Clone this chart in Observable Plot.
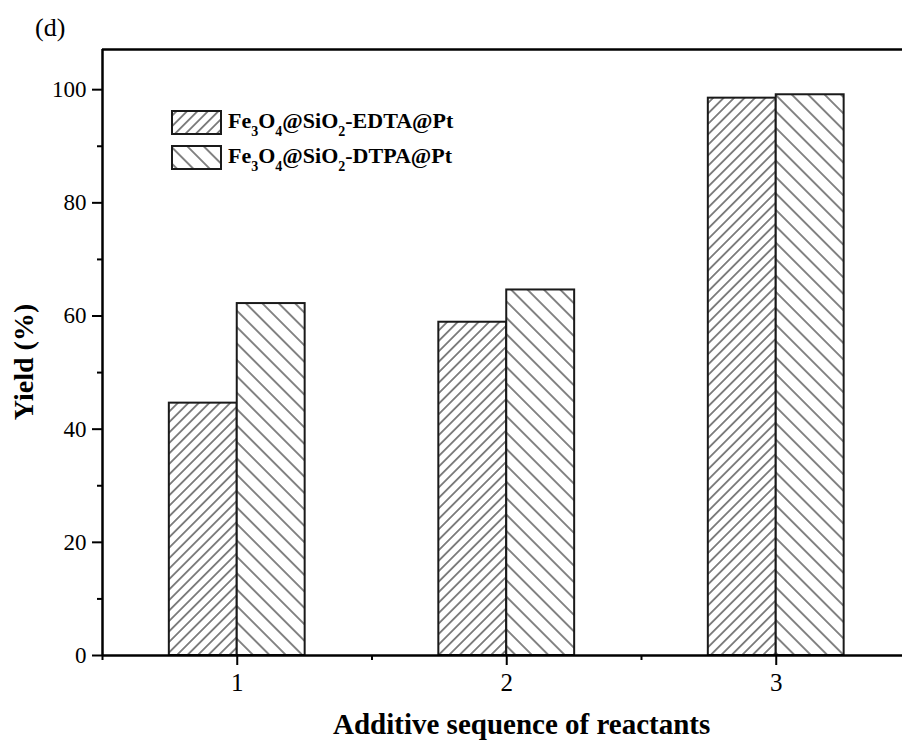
<!DOCTYPE html>
<html><head><meta charset="utf-8">
<script src="https://cdn.jsdelivr.net/npm/d3@7"></script>
<script src="https://cdn.jsdelivr.net/npm/@observablehq/plot@0.6"></script>
<style>body{margin:0;background:#fff} svg{display:block}</style>
</head><body><div id="chart"></div>
<script>
// ---- data ----
const sequences = [1, 2, 3];
const seriesNames = ["Fe3O4@SiO2-EDTA@Pt", "Fe3O4@SiO2-DTPA@Pt"];
const edtaYield = [44.6, 58.9, 98.5];
const dtpaYield = [62.2, 64.6, 99.1];
const yMajorTicks = [0, 20, 40, 60, 80, 100];
const yMinorTicks = [10, 30, 50, 70, 90];
const xMajorTicks = [1, 2, 3];
const xMinorTicks = [0.5, 1.5, 2.5];
const xLabel = "Additive sequence of reactants";
const yLabel = "Yield (%)";
const panelLabel = "(d)";

// ---- layout ----
const W = 902, H = 742;
const barW = 0.252;
const xDomain = [0.5, 3.4685];
const yDomain = [0, 107.1];
const font = "Liberation Serif, Times New Roman, serif";

const rows = [];
sequences.forEach((s, i) => {
  rows.push({seq: s, series: seriesNames[0], value: edtaYield[i], side: -1});
  rows.push({seq: s, series: seriesNames[1], value: dtpaYield[i], side: 1});
});
const fills = {[seriesNames[0]]: "url(#hatchEDTA)", [seriesNames[1]]: "url(#hatchDTPA)"};

const barMark = (name) => Plot.rectY(rows.filter(d => d.series === name), {
  x1: d => d.side < 0 ? d.seq - barW : d.seq,
  x2: d => d.side < 0 ? d.seq : d.seq + barW,
  y1: 0, y2: "value",
  fill: fills[name], stroke: "#1a1a1a", strokeWidth: 2
});

const plot = Plot.plot({
  width: W, height: H,
  marginLeft: 102, marginRight: 0, marginTop: 49, marginBottom: 87,
  style: {fontFamily: font, color: "#000", background: "#fff", overflow: "visible"},
  x: {domain: xDomain},
  y: {domain: yDomain},
  marks: [
    barMark(seriesNames[0]),
    barMark(seriesNames[1]),
    Plot.axisX(xMajorTicks, {tickSize: 10, tickPadding: 8, fontSize: 25, strokeWidth: 2, tickFormat: d => String(d), label: null}),
    Plot.axisX(xMinorTicks, {tickSize: 5, text: null, strokeWidth: 2, label: null}),
    Plot.axisY(yMajorTicks, {tickSize: 10, tickPadding: 6, fontSize: 23, strokeWidth: 2, tickFormat: d => String(d), label: null}),
    Plot.axisY(yMinorTicks, {tickSize: 5, text: null, strokeWidth: 2, label: null}),
    Plot.ruleY([yDomain[0]], {strokeWidth: 2.5, stroke: "#000"}),
    Plot.ruleY([yDomain[1]], {strokeWidth: 2.5, stroke: "#000"}),
    Plot.ruleX([xDomain[0]], {strokeWidth: 2.5, stroke: "#000"})
  ]
});

const svg = d3.select(plot);
const defs = svg.insert("defs", ":first-child");
function hatch(id, spacing, angle) {
  const p = defs.append("pattern").attr("id", id).attr("patternUnits", "userSpaceOnUse")
    .attr("width", spacing).attr("height", spacing)
    .attr("patternTransform", `rotate(${angle})`);
  p.append("rect").attr("width", spacing).attr("height", spacing).attr("fill", "#fff");
  p.append("line").attr("x1", spacing / 2).attr("x2", spacing / 2).attr("y1", 0).attr("y2", spacing)
    .attr("stroke", "#222").attr("stroke-width", 1.1);
}
hatch("hatchEDTA", 7.4, 45);
hatch("hatchDTPA", 11.6, -45);

// panel label
svg.append("text").attr("x", 35).attr("y", 36).attr("text-anchor", "start").attr("font-size", 26)
  .attr("font-family", font).text(panelLabel);
// axis titles
svg.append("text").attr("x", 333).attr("y", 734).attr("text-anchor", "start").attr("font-size", 29)
  .attr("font-weight", "bold").attr("font-family", font).text(xLabel);
svg.append("text").attr("transform", "translate(33,362) rotate(-90)").attr("text-anchor", "middle")
  .attr("font-size", 28).attr("font-weight", "bold").attr("font-family", font).text(yLabel);

// legend
function chemLabel(g, name) {
  const t = g.append("text").attr("font-size", 22).attr("font-weight", "bold")
    .attr("font-family", font).attr("text-anchor", "start");
  const parts = name.match(/\d|[^\d]+/g);
  let sub = false;
  parts.forEach(p => {
    const isDigit = /^\d$/.test(p);
    const ts = t.append("tspan").text(p);
    if (isDigit && !sub) { ts.attr("dy", 8).attr("font-size", 14); sub = true; }
    else if (!isDigit && sub) { ts.attr("dy", -8); sub = false; }
    else if (isDigit) { ts.attr("font-size", 14); }
  });
  return t;
}
seriesNames.forEach((name, i) => {
  const y0 = 111 + i * 35;
  const g = svg.append("g");
  g.append("rect").attr("x", 172).attr("y", y0).attr("width", 49).attr("height", 23)
    .attr("fill", fills[name]).attr("stroke", "#1a1a1a").attr("stroke-width", 2);
  chemLabel(g, name).attr("x", 228).attr("y", y0 + 16.5);
});

document.getElementById("chart").appendChild(plot);
</script>
</body></html>
